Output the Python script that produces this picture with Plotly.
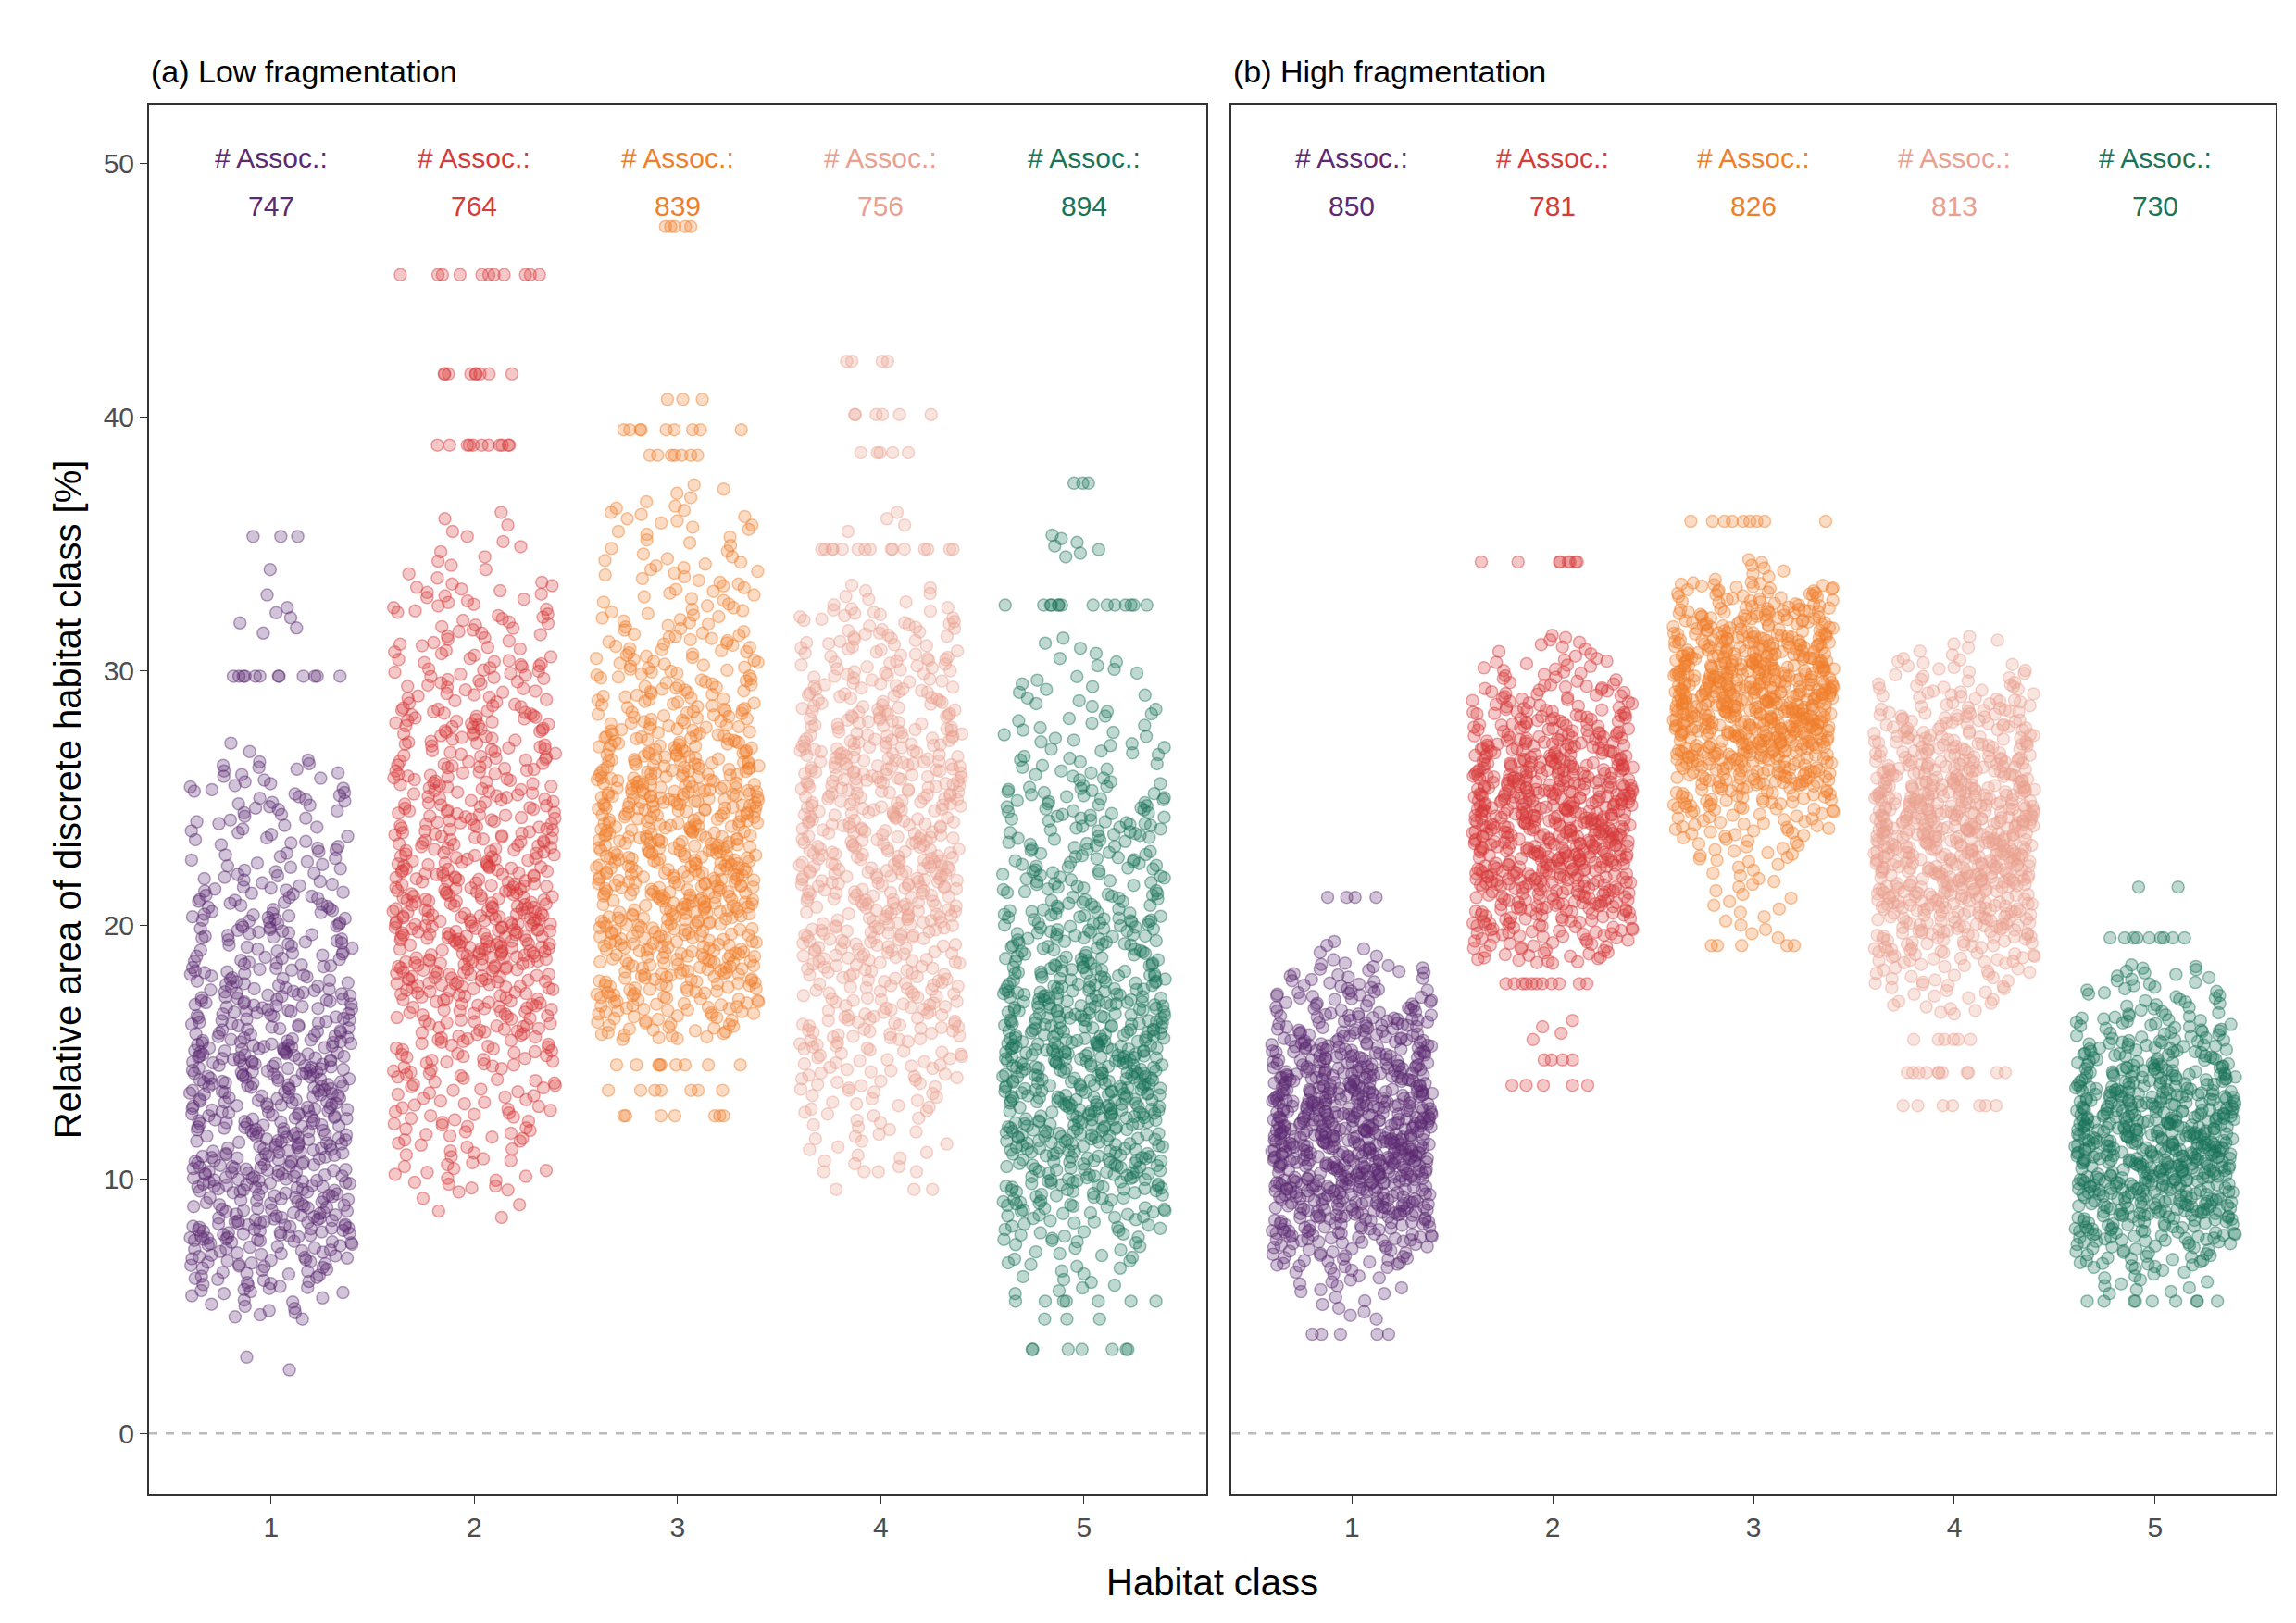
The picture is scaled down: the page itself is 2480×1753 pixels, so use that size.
import numpy as np
import plotly.graph_objects as go

CLASSES = [1, 2, 3, 4, 5]
COLORS = ["#5c2a72", "#d63a3a", "#ef7f2a", "#eaa08f", "#1a7458"]
ASSOC_LOW = [747, 764, 839, 756, 894]
ASSOC_HIGH = [850, 781, 826, 813, 730]

# (level, relative weight) for each class;
# integer levels are 1-unit bins, non-integer levels are sharp bands
LOW_1 = [(3, 2), (5, 12), (6, 25), (7, 35), (8, 50), (9, 40), (10, 50), (11, 45), (12, 45), (13, 45),
         (14, 50), (15, 50), (16, 35), (17, 40), (18, 30), (19, 25), (20, 30), (21, 25), (22, 18), (23, 15),
         (24, 14), (25, 18), (26, 14), (27, 3), (29.8, 12), (32, 5), (33, 2), (34, 1), (35.3, 3)]
LOW_2 = [(9, 4), (10, 12), (11, 12), (12, 18), (13, 18), (14, 20), (15, 25), (16, 28), (17, 35), (18, 45),
         (19, 50), (20, 55), (21, 45), (22, 40), (23, 35), (24, 32), (25, 28), (26, 28), (27, 25), (28, 30),
         (29, 20), (30, 22), (31, 15), (32, 15), (33, 14), (34, 6), (35, 5), (36, 4), (38.9, 10), (41.7, 8),
         (45.6, 10)]
LOW_3 = [(12.5, 6), (13.5, 6), (14.5, 8), (16, 25), (17, 35), (18, 40), (19, 45), (20, 45), (21, 50),
         (22, 50), (23, 50), (24, 45), (25, 55), (26, 45), (27, 38), (28, 30), (29, 25), (30, 22), (31, 20),
         (32, 15), (33, 12), (34, 12), (35, 8), (36, 10), (37, 5), (38.5, 6), (39.5, 8), (40.7, 3), (47.5, 4)]
LOW_4 = [(9.6, 3), (10.3, 4), (11, 8), (12, 10), (13, 14), (14, 20), (15, 22), (16, 30), (17, 28), (18, 30),
         (19, 35), (20, 38), (21, 40), (22, 45), (23, 40), (24, 38), (25, 40), (26, 45), (27, 40), (28, 32),
         (29, 28), (30, 25), (31, 22), (32, 20), (33, 8), (34.8, 14), (36, 4), (38.6, 5), (40.1, 6), (42.2, 4)]
LOW_5 = [(3.3, 6), (4.5, 3), (5.2, 6), (6, 8), (7, 12), (8, 20), (9, 30), (10, 40), (11, 45), (12, 50),
         (13, 55), (14, 55), (15, 60), (16, 50), (17, 50), (18, 40), (19, 32), (20, 35), (21, 25), (22, 25),
         (23, 22), (24, 25), (25, 22), (26, 12), (27, 12), (28, 10), (29, 8), (30, 6), (31, 4), (32.6, 12),
         (35, 6), (37.4, 3)]
HIGH_1 = [(3.9, 5), (5, 6), (6, 12), (7, 30), (8, 50), (9, 70), (10, 85), (11, 95), (12, 95), (13, 85),
          (14, 75), (15, 60), (16, 45), (17, 30), (18, 20), (19, 6), (21.1, 4)]
HIGH_2 = [(13.7, 5), (14.7, 4), (16, 4), (17.7, 10), (19, 30), (20, 45), (21, 60), (22, 75), (23, 80),
          (24, 85), (25, 85), (26, 75), (27, 60), (28, 45), (29, 30), (30, 18), (31, 10), (34.3, 7)]
HIGH_3 = [(19.2, 4), (20, 5), (21, 6), (22, 8), (23, 15), (24, 25), (25, 40), (26, 60), (27, 80),
          (28, 95), (29, 100), (30, 90), (31, 75), (32, 55), (33, 35), (34, 8), (35.9, 8)]
HIGH_4 = [(12.9, 6), (14.2, 10), (15.5, 5), (17, 12), (18, 20), (19, 35), (20, 50), (21, 65), (22, 75),
          (23, 80), (24, 85), (25, 75), (26, 65), (27, 50), (28, 40), (29, 25), (30, 15), (31, 6)]
HIGH_5 = [(5.2, 8), (6, 12), (7, 30), (8, 50), (9, 70), (10, 80), (11, 90), (12, 85), (13, 75),
          (14, 60), (15, 45), (16, 30), (17, 18), (18, 15), (19.5, 8), (21.5, 2)]

LOW = [LOW_1, LOW_2, LOW_3, LOW_4, LOW_5]
HIGH = [HIGH_1, HIGH_2, HIGH_3, HIGH_4, HIGH_5]


def expand(levels, n):
    w = np.array([c for _, c in levels], dtype=float)
    counts = np.round(w / w.sum() * n).astype(int)
    out = []
    for (lvl, _), c in zip(levels, counts):
        if float(lvl).is_integer() and c > 1:
            # spread a 1-unit bin evenly across its width
            out.extend(np.linspace(lvl - 0.5, lvl + 0.5, c, endpoint=False))
        else:
            out.extend([lvl] * c)
    return np.array(out)


def rgba(hexc, a):
    h = hexc.lstrip("#")
    return "rgba(%d,%d,%d,%s)" % (int(h[0:2], 16), int(h[2:4], 16), int(h[4:6], 16), a)


fig = go.Figure()
panels = [(LOW, ASSOC_LOW, "x", "y"), (HIGH, ASSOC_HIGH, "x2", "y2")]
for levels_set, assoc, xa, ya in panels:
    for k, levels, n, col in zip(CLASSES, levels_set, assoc, COLORS):
        y = expand(levels, n)
        fig.add_trace(go.Box(
            x=[k] * len(y), y=y, xaxis=xa, yaxis=ya,
            boxpoints="all", jitter=1, pointpos=0, width=0.8,
            fillcolor="rgba(0,0,0,0)", line=dict(width=0, color="rgba(0,0,0,0)"),
            marker=dict(size=13, color=rgba(col, 0.28), line=dict(width=1.5, color=rgba(col, 0.45))),
            showlegend=False,
        ))
        fig.add_annotation(x=k, y=50.2, xref=xa, yref=ya, text="# Assoc.:", showarrow=False,
                           font=dict(size=30, color=col))
        fig.add_annotation(x=k, y=48.3, xref=xa, yref=ya, text=str(n), showarrow=False,
                           font=dict(size=30, color=col))
    fig.add_shape(type="line", x0=0.4, x1=5.6, y0=0, y1=0, xref=xa, yref=ya,
                  line=dict(color="#bbbbbb", width=2.5, dash="dash"))

axis_common = dict(showline=True, linecolor="#333333", linewidth=2, mirror=True, showgrid=False,
                   zeroline=False, ticks="outside", ticklen=8, tickcolor="#333333",
                   tickfont=dict(size=30, color="#4d4d4d"))
fig.update_layout(
    width=2480, height=1753, plot_bgcolor="white", paper_bgcolor="white",
    font=dict(family="Liberation Sans, Arial, sans-serif"),
    margin=dict(l=153, r=30, t=105, b=147),
    xaxis=dict(domain=[0, 0.497], range=[0.4, 5.6], tickvals=CLASSES, **axis_common),
    xaxis2=dict(domain=[0.509, 1], range=[0.4, 5.6], tickvals=CLASSES, **axis_common),
    yaxis=dict(range=[-2.4, 52.3], tickvals=[0, 10, 20, 30, 40, 50], **axis_common,
               title=dict(text="Relative area of discrete habitat class [%]", standoff=12,
                          font=dict(size=40, color="black"))),
    yaxis2=dict(range=[-2.4, 52.3], anchor="x2", showticklabels=False, ticks="",
                **{k: v for k, v in axis_common.items() if k not in ("ticks",)}),
)
fig.add_annotation(x=0, y=1.01, xref="x domain", yref="paper", text="(a) Low fragmentation",
                   showarrow=False, xanchor="left", yanchor="bottom", font=dict(size=34, color="black"))
fig.add_annotation(x=0.509, y=1.01, xref="paper", yref="paper", text="(b) High fragmentation",
                   showarrow=False, xanchor="left", yanchor="bottom", font=dict(size=34, color="black"))
fig.add_annotation(x=0.5, y=-0.063, xref="paper", yref="paper", text="Habitat class",
                   showarrow=False, yanchor="middle", font=dict(size=40, color="black"))
fig.write_html("out.html")
